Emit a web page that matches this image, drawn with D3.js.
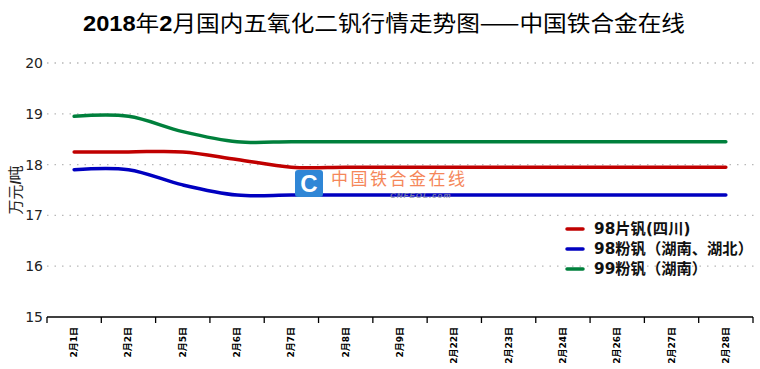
<!DOCTYPE html>
<html><head><meta charset="utf-8">
<script src="https://cdn.jsdelivr.net/npm/d3@7"></script>
<style>
body{margin:0;background:#fff;}
svg{display:block;font-family:"DejaVu Sans","Noto Sans CJK SC",sans-serif;}
</style></head>
<body>
<svg id="c" width="760" height="369"></svg>
<script>
const categories = ["2月1日","2月2日","2月5日","2月6日","2月7日","2月8日","2月9日","2月22日","2月23日","2月24日","2月26日","2月27日","2月28日"];
const seriesNames = ["98片钒(四川)","98粉钒（湖南、湖北）","99粉钒（湖南）"];
const seriesColors = ["#c00000","#0000c0","#00803c"];
const red98 = [18.25,18.25,18.25,18.1,17.95,17.95,17.95,17.95,17.95,17.95,17.95,17.95,17.95];
const blue98 = [17.9,17.9,17.6,17.4,17.4,17.4,17.4,17.4,17.4,17.4,17.4,17.4,17.4];
const green99 = [18.95,18.95,18.65,18.45,18.45,18.45,18.45,18.45,18.45,18.45,18.45,18.45,18.45];
const yTicks = [15,16,17,18,19,20];
const titleParts = [["2018",true],["年",false],["2",true],["月国内五氧化二钒行情走势图——中国铁合金在线",false]];
const seriesValues = [red98, blue98, green99];

const svg = d3.select("#c");
const L = 47, R = 753, T = 63, B = 317;
const x = d3.scaleBand().domain(categories).range([L, R]).padding(0);
const y = d3.scaleLinear().domain([15, 20]).range([B, T]);

// title
const title = svg.append("text").attr("x", 83).attr("y", 31)
  .attr("textLength", 602).attr("lengthAdjust", "spacingAndGlyphs")
  .style("font-size", "22px").attr("fill", "#000");
title.selectAll("tspan").data(titleParts).join("tspan")
  .style("font-family", d => d[1] ? "'Liberation Sans',sans-serif" : "'Noto Sans CJK SC',sans-serif")
  .style("font-weight", d => d[1] ? "bold" : "normal")
  .text(d => d[0]);

// grid
svg.append("g").selectAll("line").data(yTicks.filter(d => d > 15)).join("line")
  .attr("x1", L).attr("x2", R + 2).attr("y1", d => y(d)).attr("y2", d => y(d))
  .attr("stroke", "#b8b8b8").attr("stroke-width", 1.3).attr("stroke-dasharray", "1.5,6");

// y labels
svg.append("g").selectAll("text").data(yTicks).join("text")
  .attr("x", 43).attr("y", d => y(d) + 5).attr("text-anchor", "end")
  .style("font-size", "14px").attr("fill", "#222").text(d => d);

const yl = svg.append("text").attr("transform", "translate(21,190) rotate(-90)")
  .attr("text-anchor", "middle").style("font-size", "15px").attr("fill", "#222")
  .style("font-family", "'Noto Sans CJK SC',sans-serif");
yl.append("tspan").text("万元");
yl.append("tspan").style("font-weight", "bold").style("font-family", "'Liberation Sans',sans-serif").text("/");
yl.append("tspan").text("吨");

// x axis
const gx = svg.append("g").attr("transform", `translate(0,${B})`);
gx.append("line").attr("x1", L).attr("x2", R).attr("stroke", "#000").attr("stroke-width", 1.5);
const bounds = categories.map(c => x(c)).concat([R]);
gx.selectAll("line.tk").data(bounds).join("line").attr("class", "tk")
  .attr("x1", d => d).attr("x2", d => d).attr("y1", 0).attr("y2", 6)
  .attr("stroke", "#000").attr("stroke-width", 1.3);
gx.selectAll("text").data(categories).join("text")
  .attr("transform", d => `translate(${x(d) + x.bandwidth() / 2 + 3},${10}) rotate(-90)`)
  .attr("text-anchor", "end").style("font-size", "9px").style("font-weight", "bold")
  .attr("fill", "#000").text(d => d);

// lines
const line = d3.line().x((d, i) => x(categories[i]) + x.bandwidth() / 2).y(d => y(d))
  .curve(d3.curveCatmullRom.alpha(0));
svg.append("g").selectAll("path").data(seriesValues).join("path")
  .attr("d", d => line(d)).attr("fill", "none")
  .attr("stroke", (d, i) => seriesColors[i]).attr("stroke-width", 3.5)
  .attr("stroke-linecap", "round");

// watermark (drawn over the lines)
const wm = svg.append("g");
wm.append("rect").attr("x", 295).attr("y", 170).attr("width", 28).attr("height", 27).attr("rx", 3).attr("fill", "#2f86d6");
wm.append("text").attr("x", 309).attr("y", 192).attr("text-anchor", "middle")
  .style("font-family", "'Liberation Sans',sans-serif").style("font-weight", "bold")
  .style("font-size", "24px").attr("fill", "#fff").text("C");
wm.append("text").attr("x", 331).attr("y", 185)
  .style("font-family", "'Noto Sans CJK SC',sans-serif").style("font-size", "17px")
  .attr("fill", "#f5875a").attr("letter-spacing", "2.5px").text("中国铁合金在线");
wm.append("text").attr("x", 390).attr("y", 198)
  .style("font-family", "'Liberation Sans',sans-serif").style("font-weight", "bold").style("font-style", "italic")
  .style("font-size", "8px").attr("fill", "#8a8fa8").attr("opacity", 0.85).attr("letter-spacing", "1px").text("CNFEOL.com");

// legend
const lg = svg.append("g").selectAll("g").data(seriesNames).join("g")
  .attr("transform", (d, i) => `translate(567,${229 + i * 20})`);
lg.append("line").attr("x1", 0).attr("x2", 16).attr("stroke", (d, i) => seriesColors[i])
  .attr("stroke-width", 3.5).attr("stroke-linecap", "round");
lg.append("text").attr("x", 27).attr("y", 5).style("font-size", "15.3px").style("font-weight", "bold")
  .attr("fill", "#111").text(d => d);
</script>
</body></html>
